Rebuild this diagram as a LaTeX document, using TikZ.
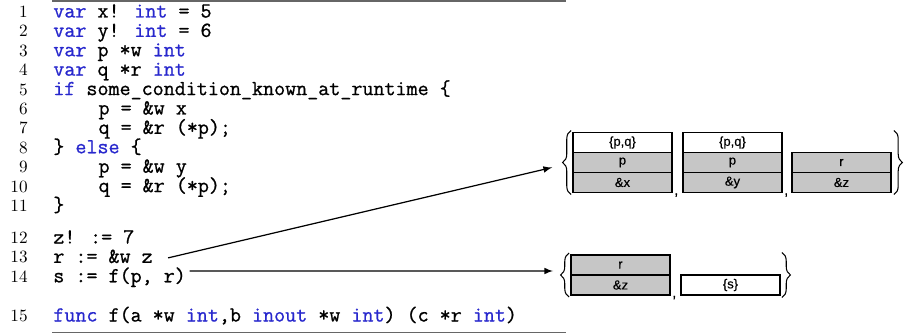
\documentclass[tikz,border=0pt]{standalone}
\usepackage{fontspec}
\usepackage{tikz}
\usetikzlibrary{positioning,decorations.pathreplacing}
\newfontfamily\boxfont{Liberation Sans}[FakeBold=0.4]
\newfontfamily\codefont{Latin Modern Mono}[FakeBold=0.9]
\definecolor{KwBlue}{RGB}{40,40,205}
\definecolor{BGray}{RGB}{198,198,198}
\newcommand{\kw}[1]{\textcolor{KwBlue}{#1}}
\tikzset{
  code/.style={anchor=base west,inner sep=0pt,font=\fontsize{12.2}{14}\codefont},
  lnum/.style={anchor=base east,inner sep=0pt,font=\fontsize{9.8}{11}\selectfont},
  cell/.style={draw,line width=0.85pt,minimum width=1.98cm,minimum height=0.4cm,
    inner sep=0pt,outer sep=0pt,font=\fontsize{7.4}{8}\boxfont},
  gcell/.style={cell,fill=BGray},
  comma/.style={anchor=base west,inner sep=0pt,font=\fontsize{8}{9}\boxfont},
  brc/.style={decorate,decoration={brace,amplitude=0.17cm},line width=0.6pt},
  arr/.style={-latex,line width=0.7pt},
  rule/.style={line width=0.9pt,black!60}
}

\begin{document}
\begin{tikzpicture}[x=0.02cm,y=-0.02cm]
\useasboundingbox (0,0) rectangle (905,334);

\draw[rule] (52,1) -- (566,1);
\draw[rule] (52,332.5) -- (566,332.5);

% line numbers
\foreach \n in {1,...,11}
  \node[lnum] (n\n) at (28,{17.5+19.4*(\n-1)}) {\n};
\foreach \n in {12,13,14}
  \node[lnum] (n\n) at (28,{243.5+19.4*(\n-12)}) {\n};
\node[lnum] (n15) at (28,321.5) {15};

% program text
\node[code] (l1) at (53,17.5) {\kw{var} x! \kw{int} = 5};
\node[code] (l2) at (53,36.9) {\kw{var} y! \kw{int} = 6};
\node[code] (l3) at (53,56.3) {\kw{var} p *w \kw{int}};
\node[code] (l4) at (53,75.7) {\kw{var} q *r \kw{int}};
\node[code] (l5) at (53,95.1) {\kw{if} some\_condition\_known\_at\_runtime \{};
\node[code] (l6) at (98.2,114.5) {p = \&w x};
\node[code] (l7) at (98.2,133.9) {q = \&r (*p);};
\node[code] (l8) at (53,153.3) {\} \kw{else} \{};
\node[code] (l9) at (98.2,172.7) {p = \&w y};
\node[code] (l10) at (98.2,192.1) {q = \&r (*p);};
\node[code] (l11) at (53,211.5) {\}};
\node[code] (l12) at (53,243.5) {z! := 7};
\node[code] (l13) at (53,262.9) {r := \&w z};
\node[code] (l14) at (53,282.3) {s := f(p, r)};
\node[code] (l15) at (53,321.5) {\kw{func} f(a *w \kw{int},b \kw{inout} *w \kw{int}) (c *r \kw{int})};

% first set of paths
\node[cell] (a1) at (622.5,142.5) {\{p,q\}};
\node[gcell,below=0pt of a1] (a2) {p};
\node[gcell,below=0pt of a2] (a3) {\&x};
\node[cell,right=0.22cm of a1] (b1) {\{p,q\}};
\node[gcell,below=0pt of b1] (b2) {p};
\node[gcell,below=0pt of b2] (b3) {\&y};
\node[gcell,right=0.2cm of b2] (c2) {r};
\node[gcell,below=0pt of c2] (c3) {\&z};
\node[comma] at ([shift={(2,2.5)}]a3.south east) {,};
\node[comma] at ([shift={(2,2.5)}]b3.south east) {,};
\draw[brc] ([shift={(-2,2)}]a3.south west) -- ([shift={(-2,-2)}]a1.north west);
\draw[brc] ([shift={(3,-62)}]c3.south east) -- ([shift={(3,2)}]c3.south east);

% second set of paths
\node[gcell] (d1) at (620.5,265) {r};
\node[gcell,below=0pt of d1] (d2) {\&z};
\node[cell,right=0.22cm of d2] (e) {\{s\}};
\node[comma] at ([shift={(2,2.5)}]d2.south east) {,};
\draw[brc] ([shift={(-2,2)}]d2.south west) -- ([shift={(-2,-2)}]d1.north west);
\draw[brc] ([shift={(2,-42.5)}]e.south east) -- ([shift={(2,2.5)}]e.south east);

\coordinate (t1) at ([shift={(-21,5)}]a2.west);
\coordinate (t2) at ([shift={(-18,-4)}]d1.south west);
\draw[arr] ([shift={(15,-5)}]l13.base east) -- (t1);
\draw[arr] ([shift={(3.5,-11.3)}]l14.base east) -- (t2);

\end{tikzpicture}
\end{document}
